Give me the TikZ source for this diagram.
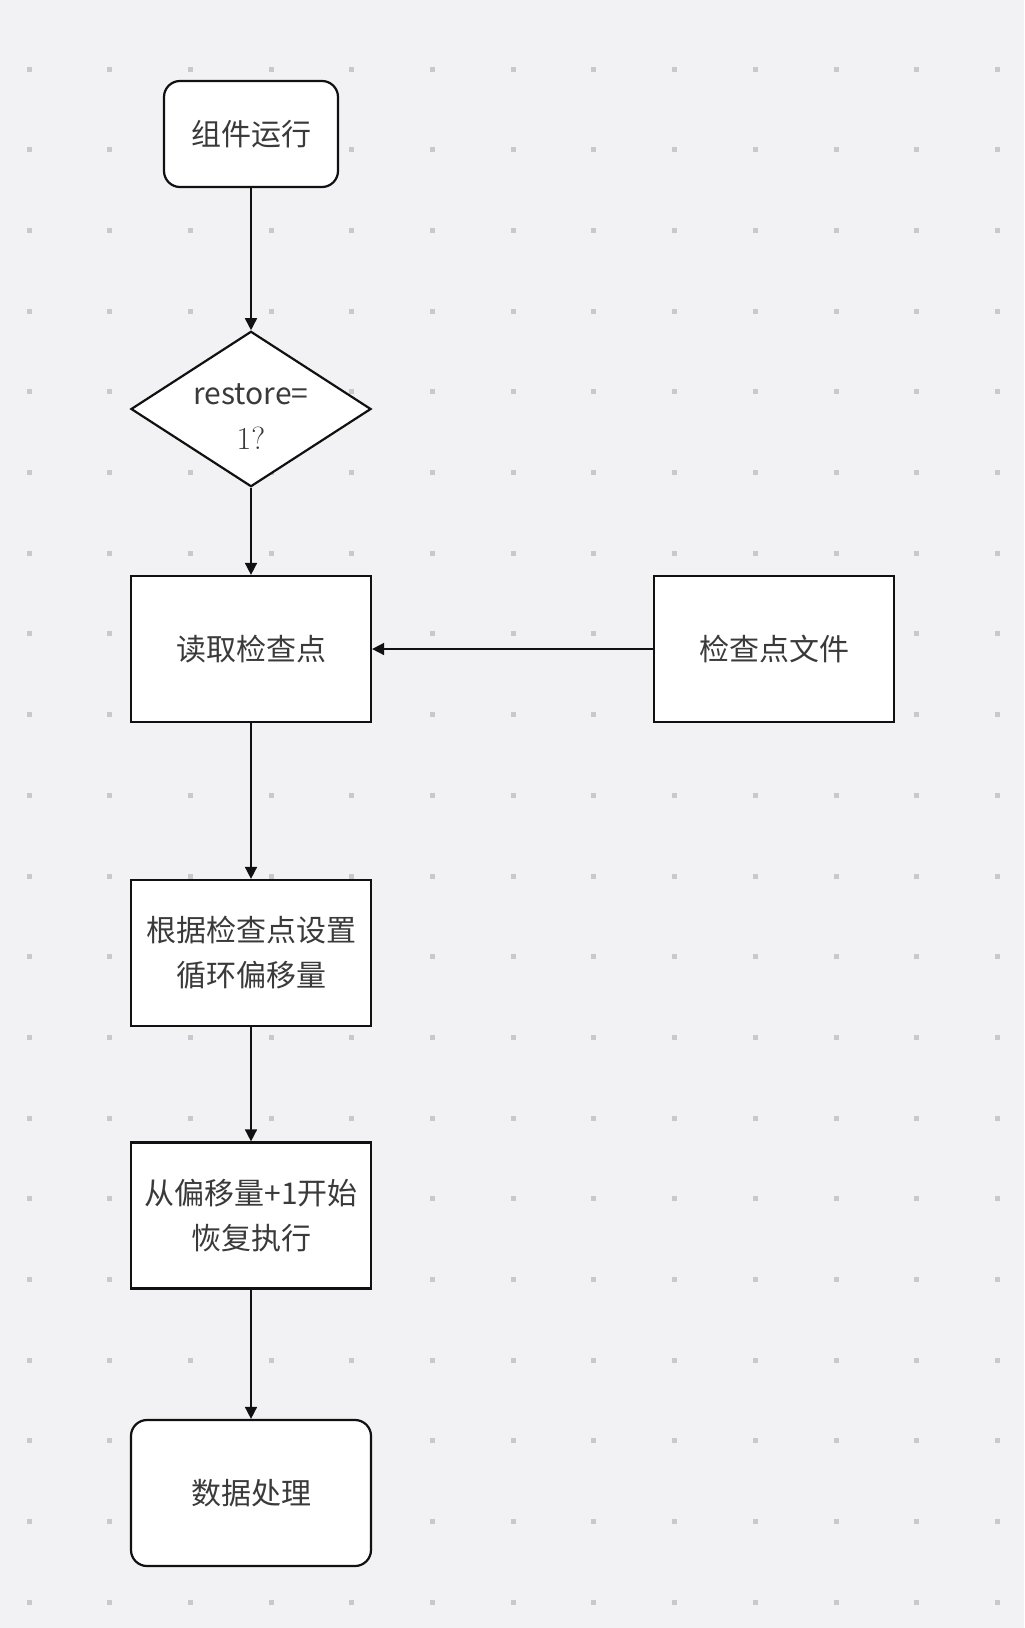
\documentclass[tikz,border=0pt]{standalone}
\usepackage{fontspec}
\newfontfamily\cjk{Noto Sans CJK SC}
\usetikzlibrary{shapes.geometric, arrows.meta}
\definecolor{Paper}{HTML}{F2F2F4}
\definecolor{Dots}{HTML}{C9C9CD}
\definecolor{Ink}{HTML}{111111}
\definecolor{Label}{HTML}{3A3A3A}
\tikzset{
    flowbox/.style={draw=Ink, fill=white, line width=1.1pt, minimum width=120pt, minimum height=73pt,
        inner sep=0pt, align=center, text=Label, font=\cjk\fontsize{15}{22.5}\selectfont},
    termbox/.style={flowbox, rounded corners=8pt},
    testbox/.style={flowbox, shape=diamond, aspect=1.545, minimum width=119pt, minimum height=77pt},
    flowarrow/.style={draw=Ink, line width=0.8pt, -{Triangle[length=6pt, width=6pt]}}
}
\begin{document}
\begin{tikzpicture}[x=0.5pt, y=-0.5pt]
            \fill[Paper] (0,0) rectangle (1024,1628);
            \useasboundingbox (0,0) rectangle (1024,1628);
            % background dot grid
            \foreach \i in {0,...,12} {
                \foreach \j in {0,...,19} {
                    \fill[Dots] ({29+80.7*\i-2.5},{69+80.7*\j-2.5}) rectangle ++(5,5);
                }
            }
            \node[termbox, minimum width=87pt, minimum height=53pt] (run) at (251,134) {组件运行};
            \node[testbox] (test) at (251,409) {\rule{0pt}{18pt}restore=\\{\rmfamily\fontsize{16}{22.5}\selectfont 1?}};
            \node[flowbox] (read) at (251,649) {读取检查点};
            \node[flowbox] (file) at (774,649) {检查点文件};
            \node[flowbox] (offset) at (251,953) {根据检查点设置\\循环偏移量};
            \node[flowbox] (resume) at (251,1215.5) {从偏移量+1开始\\恢复执行};
            \node[termbox] (handle) at (251,1493) {数据处理};
            % connectors
            \draw[flowarrow] (run) -- (test);
            \draw[flowarrow] (test) -- (read);
            \draw[flowarrow] (file) -- (read);
            \draw[flowarrow] (read) -- (offset);
            \draw[flowarrow] (offset) -- (resume);
            \draw[flowarrow] (resume) -- (handle);
        \end{tikzpicture}
\end{document}
